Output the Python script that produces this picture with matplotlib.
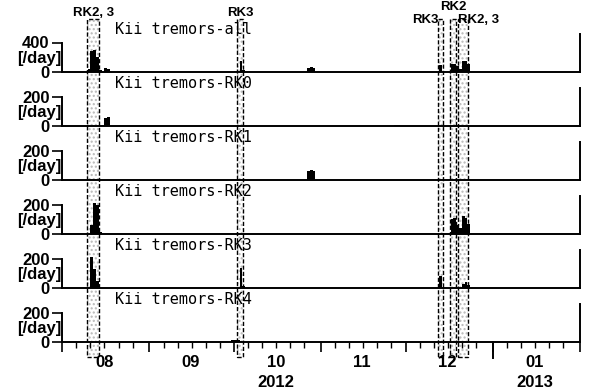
import datetime as dt
import matplotlib
matplotlib.use('Agg')
import matplotlib.pyplot as plt
import matplotlib.dates as mdates
from matplotlib.patches import Rectangle
from matplotlib.transforms import blended_transform_factory

FONT = ['Liberation Sans Narrow', 'Liberation Sans', 'DejaVu Sans']
MONO = ['DejaVu Sans Mono', 'Liberation Mono']


def d(m, day, y=2012, h=0):
    return dt.datetime(y, m, day, h)


# ---- data (daily counts) ----
panel_names = ['all', 'RK0', 'RK1', 'RK2', 'RK3', 'RK4']
panel_top_tick = [400, 200, 200, 200, 200, 200]

all_dates = [d(8, 10), d(8, 11), d(8, 12), d(8, 13), d(8, 14), d(8, 16), d(8, 17),
             d(10, 1), d(10, 2), d(10, 3), d(10, 4), d(10, 27), d(10, 28), d(10, 29),
             d(12, 13), d(12, 17), d(12, 18), d(12, 19), d(12, 20), d(12, 21), d(12, 22), d(12, 23)]
all_counts = [30, 280, 290, 200, 15, 55, 30,
              10, 10, 140, 15, 55, 60, 55,
              90, 100, 110, 70, 40, 150, 150, 100]

rk0_dates = [d(8, 16), d(8, 17), d(11, 27), d(11, 28)]
rk0_counts = [55, 60, 6, 6]

rk1_dates = [d(10, 27), d(10, 28), d(10, 29)]
rk1_counts = [60, 65, 60]

rk2_dates = [d(8, 11), d(8, 12), d(8, 13), d(8, 14),
             d(12, 17), d(12, 18), d(12, 19), d(12, 20), d(12, 21), d(12, 22), d(12, 23)]
rk2_counts = [60, 210, 200, 15,
              100, 110, 60, 40, 120, 110, 70]

rk3_dates = [d(8, 11), d(8, 12), d(8, 13), d(10, 3), d(10, 4),
             d(12, 13), d(12, 21), d(12, 22), d(12, 23)]
rk3_counts = [210, 130, 50, 135, 15,
              85, 30, 40, 20]

rk4_dates = [d(9, 30), d(10, 1), d(10, 2), d(10, 3)]
rk4_counts = [12, 12, 12, 10]

series = [(all_dates, all_counts), (rk0_dates, rk0_counts), (rk1_dates, rk1_counts),
          (rk2_dates, rk2_counts), (rk3_dates, rk3_counts), (rk4_dates, rk4_counts)]

# highlighted episodes: label, start, end
box_labels = ['RK2, 3', 'RK3', 'RK3', 'RK2', 'RK2, 3']
box_start = [d(8, 9, h=22), d(10, 2, h=5), d(12, 12, h=15), d(12, 16, h=22), d(12, 19, h=17)]
box_end = [d(8, 14, h=5), d(10, 4, h=8), d(12, 14, h=10), d(12, 19, h=0), d(12, 23, h=8)]

month_labels = ['08', '09', '10', '11', '12', '01']
month_mid = [d(8, 16), d(9, 15, h=12), d(10, 16), d(11, 15, h=12), d(12, 16), d(1, 16, y=2013)]
year_labels = ['2012', '2013']
year_pos = [d(10, 16), d(1, 16, y=2013)]

x_start = d(7, 31, h=22)
x_end = d(2, 1, y=2013)

# ---- layout ----
W, H = 589, 390
fig = plt.figure(figsize=(W / 100, H / 100), dpi=100)

left, right = 62, 580
base0, step, ax_h = 71.5, 54.1, 38

axes = []
for i, name in enumerate(panel_names):
    base = base0 + i * step
    ax = fig.add_axes([left / W, 1 - base / H, (right - left) / W, ax_h / H],
                      sharex=axes[0] if axes else None)
    ax.patch.set_visible(False)
    dates, counts = series[i]
    ax.bar(dates, counts, width=1, align='edge', color='black', linewidth=0)

    top = panel_top_tick[i]
    ax.set_ylim(0, top * ax_h / 29.0)
    ax.set_yticks([0, top])
    ax.set_yticklabels(['0', str(top)], family=FONT, fontsize=12, fontweight='bold')
    ax.tick_params(axis='y', direction='out', length=7, width=1.2, pad=2)
    ax.spines['top'].set_visible(False)
    ax.spines['left'].set_bounds(0, top)
    for s in ['left', 'right', 'bottom']:
        ax.spines[s].set_linewidth(1.4)

    ax.text(-0.002, 13.5 / ax_h, '[/day]', transform=ax.transAxes, ha='right', va='center',
            family=FONT, fontsize=12, fontweight='bold')
    ax.text(0.102, 42 / ax_h, 'Kii tremors-' + name, transform=ax.transAxes,
            ha='left', va='center', family=MONO, fontsize=11)

    if i < len(panel_names) - 1:
        ax.tick_params(axis='x', which='both', bottom=False, labelbottom=False)
    axes.append(ax)

ax_b = axes[-1]
ax_b.set_xlim(x_start, x_end)
ax_b.xaxis.set_major_locator(mdates.MonthLocator())
ax_b.xaxis.set_minor_locator(mdates.DayLocator(bymonthday=[6, 11, 16, 21, 26]))
ax_b.xaxis.set_major_formatter(plt.NullFormatter())
ax_b.tick_params(axis='x', which='major', direction='out', length=7, width=1.2)
ax_b.tick_params(axis='x', which='minor', direction='out', length=4, width=1.0)
ax_b.axvline(mdates.date2num(d(1, 1, y=2013)), ymin=-0.42, ymax=0, color='black',
             lw=1.4, clip_on=False)

for lab, pos in zip(month_labels, month_mid):
    ax_b.annotate(lab, xy=(pos, 0), xycoords=('data', 'axes fraction'), xytext=(0, -15),
                  textcoords='offset points', ha='center', va='center',
                  family=FONT, fontsize=12, fontweight='bold', annotation_clip=False)
for lab, pos in zip(year_labels, year_pos):
    ax_b.annotate(lab, xy=(pos, 0), xycoords=('data', 'axes fraction'), xytext=(0, -29),
                  textcoords='offset points', ha='center', va='center',
                  family=FONT, fontsize=12, fontweight='bold', annotation_clip=False)

# ---- dashed episode boxes spanning all panels ----
trans = blended_transform_factory(ax_b.transData, fig.transFigure)
y_top, y_bot = 1 - 19 / H, 1 - 357 / H
for s, e in zip(box_start, box_end):
    x0 = mdates.date2num(s)
    w = mdates.date2num(e) - x0
    # stipple behind the bars, dashed outline on top
    fig.add_artist(Rectangle((x0, y_bot), w, y_top - y_bot, transform=trans,
                             facecolor='none', edgecolor='#b8b8b8', hatch='....',
                             linewidth=0, zorder=-1))
    fig.add_artist(Rectangle((x0, y_bot), w, y_top - y_bot, transform=trans,
                             facecolor='none', edgecolor='black', linestyle=(0, (3, 1.5)),
                             linewidth=1.0, zorder=4))

# labels above the boxes
label_y = [13, 13, 20, 7, 20]
label_ha = ['center', 'center', 'right', 'center', 'left']
for lab, s, e, yy, ha in zip(box_labels, box_start, box_end, label_y, label_ha):
    if ha == 'center':
        xx = mdates.date2num(s) + (mdates.date2num(e) - mdates.date2num(s)) / 2
    else:
        xx = mdates.date2num(s)
    axes[0].annotate(lab, xy=(xx, 1 - yy / H), xycoords=('data', 'figure fraction'),
                     ha=ha, va='center', family=FONT, fontsize=9.5, fontweight='bold',
                     annotation_clip=False)

fig.savefig('out.png', dpi=100, facecolor='white')
